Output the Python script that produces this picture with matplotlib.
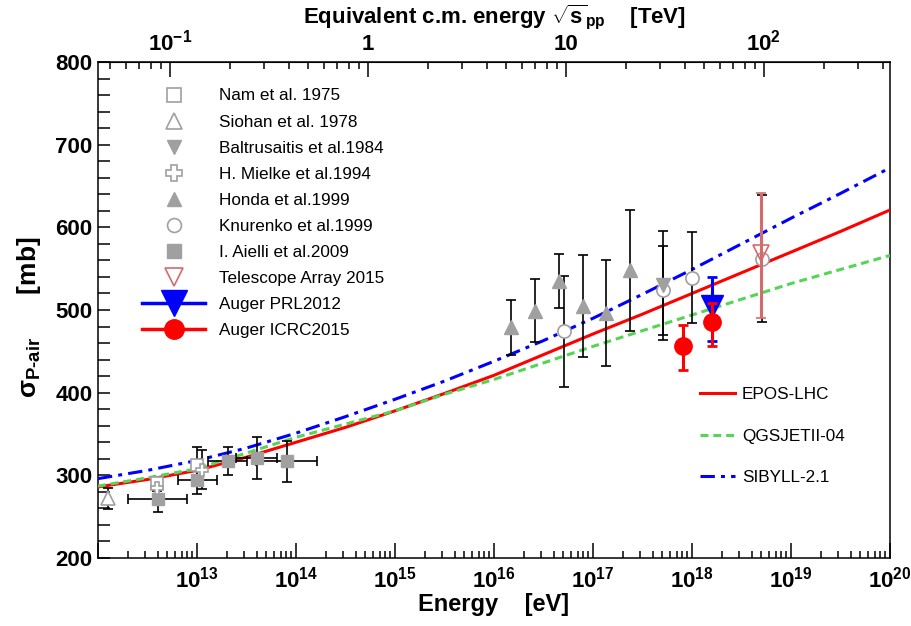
import numpy as np
import matplotlib
matplotlib.use("Agg")
import matplotlib.pyplot as plt
from matplotlib.lines import Line2D
from matplotlib.ticker import (FixedLocator, FixedFormatter, LogLocator,
                               NullFormatter, MultipleLocator, FuncFormatter)

# ---- data ----
siohan_e = [1.26e12]
siohan_sig = [272]
siohan_err = [13]

nam_e = [3.9e12, 1.0e13]
nam_sig = [291, 312]
nam_err = [5, 22]

mielke_e = [3.9e12, 1.12e13]
mielke_sig = [285, 307]
mielke_err = [4, 24]

aielli_e = [4.0e12, 1.0e13, 2.04e13, 4.0e13, 8.1e13]
aielli_e_lo = [2.0e12, 6.4e12, 1.28e13, 2.5e13, 3.9e13]
aielli_e_hi = [8.0e12, 1.6e13, 3.2e13, 6.4e13, 1.63e14]
aielli_sig = [271, 294, 317, 321, 317]
aielli_err = [15, 17, 17, 25, 25]

honda_e = [1.5e16, 2.62e16, 4.5e16, 7.93e16, 1.36e17, 2.38e17]
honda_sig = [479, 499, 535, 505, 496, 548]
honda_err = [33, 38, 33, 62, 64, 73]

knurenko_e = [5.05e16, 5.05e17, 1.01e18, 5.09e18]
knurenko_sig = [474, 524, 539, 562]
knurenko_err = [67, 54, 55, 77]

baltrusaitis_e = [5.05e17]
baltrusaitis_sig = [530]
baltrusaitis_err = [66]

ta_e = [4.98e18]
ta_sig = [569]
ta_err_lo = [79]
ta_err_hi = [72]

auger12_e = [1.61e18]
auger12_sig = [505]
auger12_err_lo = [43]
auger12_err_hi = [35]

auger15_e = [8.1e17, 1.61e18]
auger15_sig = [457, 486]
auger15_err_lo = [30, 30]
auger15_err_hi = [25, 23]

model_e = [1e12, 3.16e12, 1e13, 3.16e13, 1e14, 3.16e14, 1e15, 3.16e15, 1e16,
           3.16e16, 1e17, 3.16e17, 1e18, 3.16e18, 1e19, 3.16e19, 1e20]
epos_sig = [286, 295, 306, 322, 340, 358, 378, 399, 421, 446, 471, 495, 520,
            545, 570, 595, 621]
qgsjet_sig = [287, 297, 308, 327, 346, 362, 378, 398, 416, 436, 456, 475,
              494, 513, 532, 549, 566]
sibyll_sig = [296, 306, 318, 333, 351, 371, 392, 414, 438, 463, 490, 519,
              549, 580, 611, 641, 672]

# ---- style ----
plt.rcParams["font.family"] = ["Liberation Sans", "DejaVu Sans"]
plt.rcParams["font.weight"] = "bold"
plt.rcParams["axes.labelweight"] = "bold"
plt.rcParams["mathtext.fontset"] = "custom"
plt.rcParams["mathtext.rm"] = "Liberation Sans"
plt.rcParams["mathtext.bf"] = "Liberation Sans:bold"
plt.rcParams["mathtext.it"] = "Liberation Sans:italic"

gray = "#a0a0a0"
ta_col = "#d46a6a"
green = "#55d455"

fig = plt.figure(figsize=(9.11, 6.26), dpi=100)
ax = fig.add_axes([98 / 911, 1 - 558 / 626, 792 / 911, 496 / 626])
ax.set_xscale("log")
ax.set_xlim(1e12, 1e20)
ax.set_ylim(200, 800)

# models
ax.plot(model_e, epos_sig, color="red", lw=2.2, zorder=3)
ax.plot(model_e, qgsjet_sig, color=green, lw=2.2, dashes=(2.6, 1.6), zorder=3)
ax.plot(model_e, sibyll_sig, color="blue", lw=2.2, dashes=(4.7, 2.0, 1.3, 2.0), zorder=3)

eb = dict(ecolor="k", elinewidth=1.2, capsize=3.5, capthick=1.2, ls="none", zorder=4)

e = np.array(aielli_e)
ax.errorbar(aielli_e, aielli_sig, yerr=aielli_err,
            xerr=[e - np.array(aielli_e_lo), np.array(aielli_e_hi) - e],
            marker="s", ms=9, mfc=gray, mec=gray, **eb)
ax.errorbar(nam_e, nam_sig, yerr=nam_err, marker="s", ms=9, mfc="white", mec=gray, mew=1.2, **eb)
ax.errorbar(mielke_e, mielke_sig, yerr=mielke_err, marker="P", ms=9, mfc="white", mec=gray, mew=1.2, **eb)
ax.errorbar(siohan_e, siohan_sig, yerr=siohan_err, marker="^", ms=10, mfc="white", mec=gray, mew=1.2, **eb)
ax.errorbar(honda_e, honda_sig, yerr=honda_err, marker="^", ms=9.5, mfc=gray, mec=gray, **eb)
ax.errorbar(knurenko_e, knurenko_sig, yerr=knurenko_err, marker="o", ms=9.5, mfc="white", mec=gray, mew=1.2, **eb)
ax.errorbar(baltrusaitis_e, baltrusaitis_sig, yerr=baltrusaitis_err, marker="v", ms=9.5, mfc=gray, mec=gray, **eb)
ax.errorbar(ta_e, ta_sig, yerr=[ta_err_lo, ta_err_hi], marker="v", ms=12, mfc="none", mec=ta_col,
            mew=1.2, ecolor=ta_col, elinewidth=2.2, capsize=3.5, capthick=1.2, ls="none", zorder=5)
ax.errorbar(auger12_e, auger12_sig, yerr=[auger12_err_lo, auger12_err_hi], marker="v", ms=16,
            mfc="blue", mec="blue", ecolor="blue", elinewidth=2.2, capsize=3.5, capthick=2,
            ls="none", zorder=5)
ax.errorbar(auger15_e, auger15_sig, yerr=[auger15_err_lo, auger15_err_hi], marker="o", ms=12.5,
            mfc="red", mec="red", ecolor="red", elinewidth=2.2, capsize=3.5, capthick=2,
            ls="none", zorder=6)

# ---- axes ----
ax.xaxis.set_major_locator(LogLocator(base=10, numticks=20))
ax.xaxis.set_minor_locator(LogLocator(base=10, subs=np.arange(2, 10), numticks=20))
ax.xaxis.set_minor_formatter(NullFormatter())
ax.xaxis.set_major_formatter(FuncFormatter(
    lambda v, p: "" if v < 5e12 else r"$\mathbf{10^{%d}}$" % round(np.log10(v))))
ax.yaxis.set_major_locator(MultipleLocator(100))
ax.yaxis.set_minor_locator(MultipleLocator(20))
ax.tick_params(axis="x", which="major", direction="in", length=11, width=1.1, labelsize=16, pad=6,
               top=False)
ax.tick_params(axis="x", which="minor", direction="in", length=5, width=1.1, top=False)
ax.tick_params(axis="y", which="both", direction="in", length=8.5, width=1.1, labelsize=16, pad=4,
               right=False)
for s in ax.spines.values():
    s.set_linewidth(1.1)

mp = 0.938e9


def e_to_sqrts(x):
    x = np.asarray(x, dtype=float)
    return np.sqrt(2 * mp * np.clip(x, 1e-30, None)) / 1e12


def sqrts_to_e(s):
    s = np.asarray(s, dtype=float)
    return (s * 1e12) ** 2 / (2 * mp)


sec = ax.secondary_xaxis("top", functions=(e_to_sqrts, sqrts_to_e))
sec.xaxis.set_major_locator(FixedLocator([0.1, 1, 10, 100]))
sec.xaxis.set_major_formatter(FixedFormatter([r"$\mathbf{10^{-1}}$", "1", "10", r"$\mathbf{10^{2}}$"]))
sec.xaxis.set_minor_locator(LogLocator(base=10, subs=np.arange(2, 10), numticks=20))
sec.xaxis.set_minor_formatter(NullFormatter())
sec.tick_params(which="major", direction="in", length=11, width=1.1, labelsize=16, pad=5)
sec.tick_params(which="minor", direction="in", length=5, width=1.1)

fig.text(494 / 911, 1 - 17 / 626, r"Equivalent c.m. energy $\mathbf{\sqrt{s}_{pp}}$    [TeV]",
         ha="center", va="center", fontsize=16, fontweight="bold")
ax.set_xlabel("Energy    [eV]", fontsize=17, fontweight="bold")
ax.xaxis.set_label_coords(0.5, -0.07)
ax.xaxis.label.set_va("top")
ax.set_ylabel(r"$\mathrm{\sigma}_{\mathbf{P\text{-}air}}$      [mb]", fontsize=19, fontweight="bold")
ax.yaxis.set_label_coords(-0.07, 0.485)

# ---- legends ----
handles1 = [
    Line2D([], [], ls="none", marker="s", ms=10, mfc="white", mec=gray, mew=1.2),
    Line2D([], [], ls="none", marker="^", ms=11, mfc="white", mec=gray, mew=1.2),
    Line2D([], [], ls="none", marker="v", ms=10, mfc=gray, mec=gray),
    Line2D([], [], ls="none", marker="P", ms=11, mfc="white", mec=gray, mew=1.2),
    Line2D([], [], ls="none", marker="^", ms=10, mfc=gray, mec=gray),
    Line2D([], [], ls="none", marker="o", ms=10, mfc="white", mec=gray, mew=1.2),
    Line2D([], [], ls="none", marker="s", ms=10, mfc=gray, mec=gray),
    Line2D([], [], ls="none", marker="v", ms=13, mfc="none", mec=ta_col, mew=1.2),
    Line2D([], [], color="blue", lw=2.5, marker="v", ms=19),
    Line2D([], [], color="red", lw=2.5, marker="o", ms=14),
]
labels1 = ["Nam et al. 1975", "Siohan et al. 1978", "Baltrusaitis et al.1984",
           "H. Mielke et al.1994", "Honda et al.1999", "Knurenko et al.1999",
           "I. Aielli et al.2009", "Telescope Array 2015", "Auger PRL2012", "Auger ICRC2015"]
prop = {"family": "Liberation Sans", "weight": "normal", "size": 12.3}
leg1 = ax.legend(handles1, labels1, loc="upper left", bbox_to_anchor=(0.0556, 0.9466),
                 borderaxespad=0, borderpad=0, frameon=False, handlelength=3.7,
                 handletextpad=0.8, labelspacing=0.645, numpoints=1, prop=prop)
ax.add_artist(leg1)

handles2 = [
    Line2D([], [], color="red", lw=2.2),
    Line2D([], [], color=green, lw=2.2, dashes=(2.6, 1.6)),
    Line2D([], [], color="blue", lw=2.2, dashes=(4.7, 2.0, 1.3, 2.0)),
]
ax.legend(handles2, ["EPOS-LHC", "QGSJETII-04", "SIBYLL-2.1"], loc="upper left",
          bbox_to_anchor=(0.760, 0.345), borderaxespad=0, borderpad=0, frameon=False,
          handlelength=2.05, handletextpad=0.4, labelspacing=1.56, prop=prop)

fig.savefig("out.png", dpi=100)
